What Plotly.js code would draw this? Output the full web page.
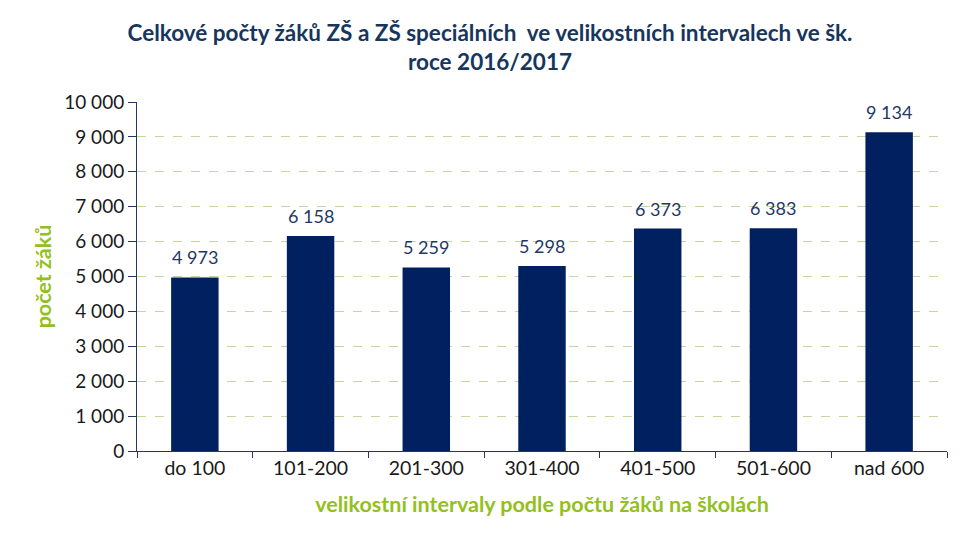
<!DOCTYPE html>
<html><head><meta charset="utf-8">
<script src="https://cdn.plot.ly/plotly-3.0.1.min.js"></script>
<style>html,body{margin:0;padding:0;background:#fff;}#chart{width:980px;height:549px;}</style>
</head><body><div id="chart"></div>
<script>
const categories = ["do 100","101-200","201-300","301-400","401-500","501-600","nad 600"];
const values = [4973, 6158, 5259, 5298, 6373, 6383, 9134];
const yTicks = [0,1000,2000,3000,4000,5000,6000,7000,8000,9000,10000];
const yTickLabels = ["0","1 000","2 000","3 000","4 000","5 000","6 000","7 000","8 000","9 000","10 000"];

function fmt(v){return String(v).replace(/\B(?=(\d{3})+(?!\d))/g,"\u00a0");}

const FONT = "Lato, Carlito, sans-serif";
const trace = {
  type:"bar", x:categories, y:values,
  marker:{color:"#002060"}, width:0.41, hoverinfo:"skip"
};
const annotations = categories.map((c,i)=>({
  x:c, y:values[i], text:fmt(values[i]), showarrow:false,
  yanchor:"bottom", yshift:7, font:{family:FONT, size:18, color:"#1f3864"}
}));
const layout = {
  width:980, height:549,
  margin:{l:137, r:33, t:102, b:98},
  paper_bgcolor:"#fff", plot_bgcolor:"#fff",
  showlegend:false,
  title:{text:"<b>Celkové počty žáků ZŠ a ZŠ speciálních  ve velikostních intervalech ve šk.<br>roce 2016/2017</b>",
    x:0.5, xanchor:"center", yref:"container", y:0.926, yanchor:"middle",
    font:{family:FONT, size:22.5, color:"#17365d"}},
  xaxis:{
    showline:true, linecolor:"#1f3864", linewidth:1,
    ticks:"outside", ticklen:6, tickcolor:"#1f3864", tickson:"boundaries",
    tickfont:{family:FONT, size:19.5, color:"#1a1a1a"},
    title:{text:"<b>velikostní intervaly podle počtu žáků na školách</b>", standoff:18,
      font:{family:FONT, size:21.5, color:"#92c020"}},
    fixedrange:true
  },
  yaxis:{
    range:[0,10000], tickvals:yTicks, ticktext:yTickLabels,
    showline:true, linecolor:"#1f3864", linewidth:1,
    ticks:"outside", ticklen:8, tickcolor:"#1f3864",
    showgrid:true, gridcolor:"#c3d69b", griddash:"dash", gridwidth:1,
    zeroline:false,
    tickfont:{family:FONT, size:19, color:"#1a1a1a"},
    title:{text:"<b>počet žáků</b>", standoff:6,
      font:{family:FONT, size:21.5, color:"#92c020"}},
    fixedrange:true
  },
  annotations:annotations,
  bargap:0.59
};
Plotly.newPlot("chart",[trace],layout,{displayModeBar:false,staticPlot:true});
</script></body></html>
